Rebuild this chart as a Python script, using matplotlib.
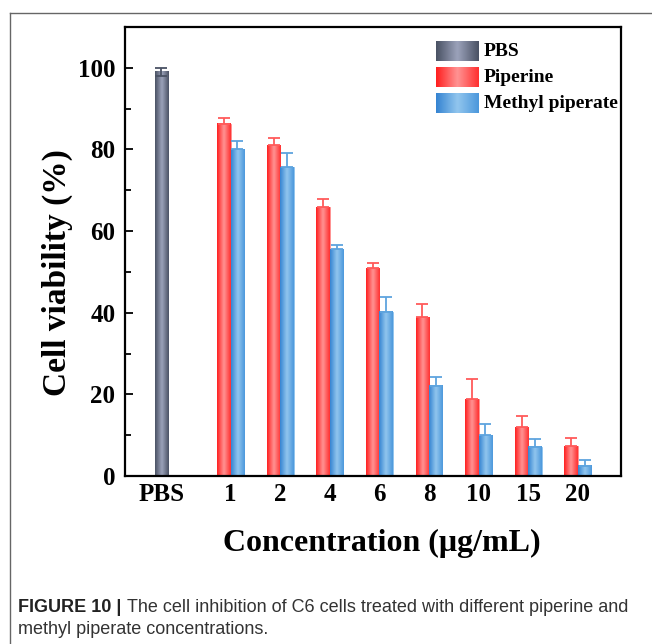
import matplotlib
matplotlib.use('Agg')
import matplotlib.pyplot as plt
import numpy as np
from matplotlib.colors import LinearSegmentedColormap
from matplotlib.lines import Line2D

# values
conc = ['1', '2', '4', '6', '8', '10', '15', '20']
pbs_val = 99.0
pbs_err = 1.0
pip = [86.3, 81.0, 65.9, 50.9, 38.9, 18.8, 11.9, 7.3]
pip_err = [1.5, 1.7, 2.0, 1.4, 3.2, 5.0, 2.7, 1.9]
mp = [80.0, 75.7, 55.6, 40.3, 22.1, 10.0, 7.2, 2.5]
mp_err = [2.0, 3.5, 1.1, 3.6, 2.2, 2.8, 1.9, 1.5]

serif = ['Liberation Serif', 'DejaVu Serif']
fs = 18

cols = {
    'PBS': ('#4a5264', '#9ca3bb', '#4a5264'),
    'Piperine': ('#ff1f1f', '#ff9494', '#ff3030'),
    'Methyl piperate': ('#3584d2', '#92c6ee', '#4c98dc'),
}
grad = np.linspace(0, 1, 64).reshape(1, -1)


def cmap_for(name):
    return LinearSegmentedColormap.from_list(name, cols[name])


def grad_bar(ax, x0, w, h, name):
    b = ax.bar(x0, h, w, align='edge', color=cols[name][0], edgecolor=cols[name][1], linewidth=0.6, zorder=2)
    ax.imshow(grad, cmap=cmap_for(name), extent=[x0, x0 + w, 0, h], aspect='auto', zorder=2.1,
              interpolation='bicubic')
    return b


fig = plt.figure(figsize=(6.52, 6.44), dpi=100)
ax = fig.add_axes([125 / 652, 1 - 476 / 644, 496 / 652, 449 / 644])

w = 0.27
pos = np.arange(len(conc)) + 1.4

grad_bar(ax, -w / 2, w, pbs_val, 'PBS')
ax.errorbar(0, pbs_val, yerr=pbs_err, fmt='none', ecolor=cols['PBS'][0], elinewidth=1.3, capsize=4, capthick=1.3, zorder=3)

for i in range(len(conc)):
    grad_bar(ax, pos[i] - w, w, pip[i], 'Piperine')
    grad_bar(ax, pos[i], w, mp[i], 'Methyl piperate')
ax.errorbar(pos - w / 2, pip, yerr=[np.zeros(len(pip)), pip_err], fmt='none', ecolor='#ff5a5a',
            elinewidth=1.3, capsize=4, capthick=1.3, zorder=3)
ax.errorbar(pos + w / 2, mp, yerr=[np.zeros(len(mp)), mp_err], fmt='none', ecolor='#5ea4de',
            elinewidth=1.3, capsize=4, capthick=1.3, zorder=3)

ax.set_xlim(-0.73, 9.27)
ax.set_ylim(0, 110)
ax.set_xticks(np.concatenate([[0], pos]))
ax.set_xticklabels(['PBS'] + conc, fontsize=fs, fontweight='bold', family=serif)
ax.set_yticks(np.arange(0, 101, 20))
ax.set_yticks(np.arange(10, 101, 20), minor=True)
ax.set_yticklabels([str(v) for v in range(0, 101, 20)], fontsize=fs, fontweight='bold', family=serif)
ax.tick_params(axis='x', length=0, pad=5)
ax.tick_params(axis='y', which='major', direction='in', length=6, width=1.3, pad=7)
ax.tick_params(axis='y', which='minor', direction='in', length=4, width=1.3)
for sp in ax.spines.values():
    sp.set_linewidth(1.6)

ax.set_ylabel('Cell viability (%)', fontsize=24, fontweight='bold', family=serif, va='center')
ax.yaxis.set_label_coords(-0.137, 0.452)
fig.text(382 / 652, 1 - 543 / 644, 'Concentration (\u03bcg/mL)', fontsize=23, fontweight='bold',
         family=serif, ha='center', va='center')

# legend with gradient swatches
names = ['PBS', 'Piperine', 'Methyl piperate']
for k, name in enumerate(names):
    y0 = 0.924 - k * 0.058
    ax.imshow(grad, cmap=cmap_for(name), extent=[0.627, 0.712, y0, y0 + 0.043], aspect='auto',
              transform=ax.transAxes, zorder=4, interpolation='bicubic')
    ax.text(0.724, y0 + 0.0215, name, transform=ax.transAxes, fontsize=14, fontweight='bold',
            family=serif, va='center', ha='left', zorder=4)

# panel frame lines
fig.add_artist(Line2D([10 / 652, 10 / 652], [0, 1 - 13 / 644], transform=fig.transFigure, color='#666666', lw=1.0))
fig.add_artist(Line2D([10 / 652, 1], [1 - 13 / 644, 1 - 13 / 644], transform=fig.transFigure, color='#666666', lw=1.0))

# caption
sans = ['Liberation Sans', 'DejaVu Sans']
t1 = fig.text(18 / 652, 1 - 607 / 644, 'FIGURE 10 |', fontsize=13, fontweight='bold', family=sans,
              color='#222222', va='center', ha='left')
fig.canvas.draw()
bb = t1.get_window_extent()
fig.text((bb.x1 + 6) / 652, 1 - 607 / 644,
         'The cell inhibition of C6 cells treated with different piperine and', fontsize=13,
         family=sans, color='#333333', va='center', ha='left')
fig.text(18 / 652, 1 - 629 / 644, 'methyl piperate concentrations.', fontsize=13, family=sans,
         color='#333333', va='center', ha='left')

fig.savefig('out.png', dpi=100)
